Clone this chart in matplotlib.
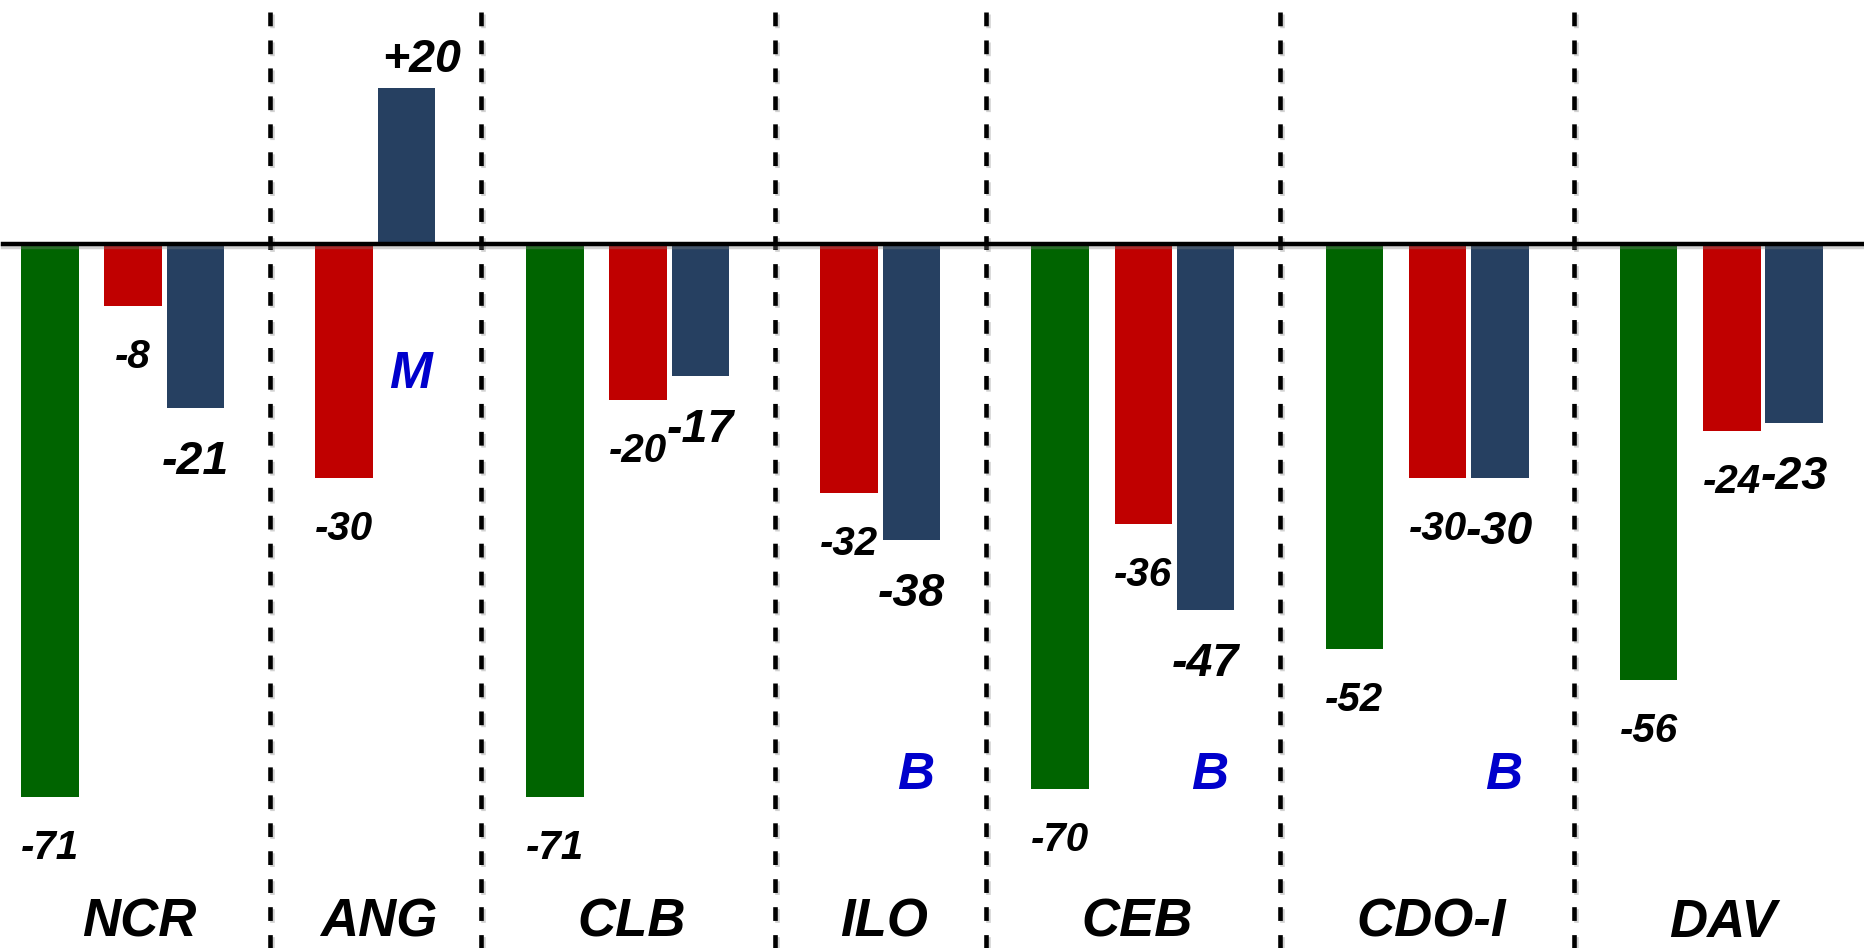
import matplotlib
matplotlib.use("Agg")
import matplotlib.pyplot as plt
import matplotlib.patheffects as pe

# Valores por regiao (None = sem barra)
REGIONS = ["NCR", "ANG", "CLB", "ILO", "CEB", "CDO-I", "DAV"]
GREEN_VALS = [-71, None, -71, None, -70, -52, -56]
RED_VALS = [-8, -30, -20, -32, -36, -30, -24]
BLUE_VALS = [-21, 20, -17, -38, -47, -30, -23]
NOTES = ["", "M", "", "B", "B", "B", ""]

GREEN = "#006400"
RED = "#C00000"
NAVY = "#264061"
NOTE_BLUE = "#0000CC"

# layout: x axis runs in canvas pixels, y axis in data units
W, H = 1864, 948
X0 = 21
BAR_W = 57.5
STEP_GR = 83.2     # verde -> vermelho
STEP_RB = 62.3     # vermelho -> azul
STEP_NEXT = 148.7  # azul -> primeira barra da proxima regiao
ZERO_PX = 244
PX_PER_UNIT = 7.79
SEP_TOP = 29.8
CAT_Y = -88.9
NOTE_Y = {"M": -18.5, "B": -69.9}

plt.rcParams.update({
    "font.family": "Liberation Sans",
    "font.weight": "bold",
    "font.style": "italic",
})


def layout():
    x = X0
    pos = []
    for g in GREEN_VALS:
        slot = {}
        if g is not None:
            slot["g"] = x
            x += STEP_GR
        slot["r"] = x
        x += STEP_RB
        slot["b"] = x
        x += STEP_NEXT
        pos.append(slot)
    return pos


def fmt(v):
    return f"+{v}" if v > 0 else f"{v}"


def label(ax, x, v, size):
    if v >= 0:
        ax.annotate(fmt(v), (x, v), xytext=(11, 12), textcoords="offset points",
                    ha="center", va="baseline", fontsize=size)
    else:
        ax.annotate(fmt(v), (x, v), xytext=(0, -23), textcoords="offset points",
                    ha="center", va="top", fontsize=size)


def main():
    fig = plt.figure(figsize=(W / 100, H / 100), dpi=100)
    ax = fig.add_axes([0, 0, 1, 1])
    ax.set_xlim(0, W)
    ax.set_ylim(-(H - ZERO_PX) / PX_PER_UNIT, ZERO_PX / PX_PER_UNIT)
    ax.axis("off")

    pos = layout()
    series = [("g", GREEN_VALS, GREEN, 29), ("r", RED_VALS, RED, 29),
              ("b", BLUE_VALS, NAVY, 33.5)]
    for key, vals, color, size in series:
        for slot, v in zip(pos, vals):
            if v is None:
                continue
            ax.bar(slot[key], v, width=BAR_W, align="edge", color=color, zorder=2)
            label(ax, slot[key] + BAR_W / 2, v, size)

    # separadores tracejados entre regioes
    seps = []
    for a, b in zip(pos[:-1], pos[1:]):
        right = a["b"] + BAR_W
        left = min(b.values())
        seps.append((right + left) / 2)
    shadow = [pe.SimpleLineShadow(offset=(1.5, -1.5), shadow_color="gray", alpha=0.35),
              pe.Normal()]
    for s in seps:
        ax.plot([s, s], [SEP_TOP, ax.get_ylim()[0]], color="black", lw=3.3,
                ls=(0, (3.0, 3.1)), solid_capstyle="butt", dash_capstyle="butt",
                zorder=3, path_effects=shadow)

    ax.plot([3, W], [0, 0], color="black", lw=3.2, zorder=4,
            path_effects=[pe.SimpleLineShadow(offset=(0, -2.5), shadow_color="gray",
                                              alpha=0.35), pe.Normal()])

    # nomes das regioes, centrados entre separadores
    edges = [0] + seps + [W]
    for i, name in enumerate(REGIONS):
        cx = (edges[i] + edges[i + 1]) / 2 + 4
        ax.text(cx, CAT_Y, name, ha="center", va="baseline", fontsize=38)

    for slot, note in zip(pos, NOTES):
        if note:
            ax.text(slot["b"] + BAR_W / 2 + 4, NOTE_Y[note], note, ha="center",
                    va="baseline", fontsize=37, color=NOTE_BLUE)

    fig.savefig("out.png", dpi=100)
    plt.close(fig)


if __name__ == "__main__":
    main()
